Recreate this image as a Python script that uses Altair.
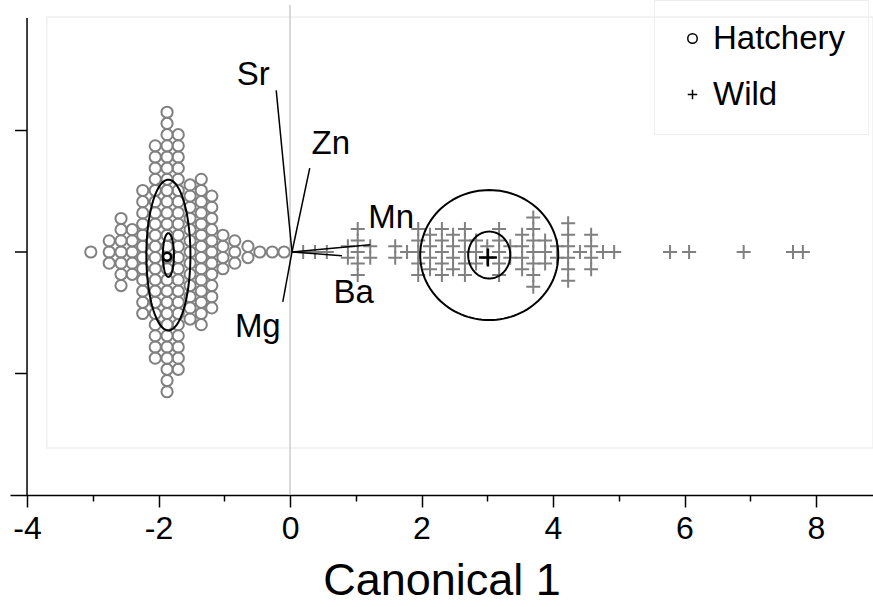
import altair as alt
import numpy as np
import pandas as pd

FONT = "Liberation Sans"

# ---- beeswarm columns (canonical-1 score of each column, number of fish in it)
hatch_x = [-3.03, -2.75, -2.57, -2.40, -2.24, -2.05, -1.87, -1.70, -1.52, -1.35,
           -1.19, -1.02, -0.84, -0.64, -0.46, -0.27, -0.09]
hatch_n = [1, 3, 7, 5, 12, 20, 26, 22, 13, 14, 11, 4, 3, 2, 1, 1, 1]

wild_x = [0.20, 0.38, 0.56, 0.88, 1.03, 1.22, 1.60, 1.78, 1.95, 2.13, 2.31, 2.48,
          2.66, 2.83, 3.00, 3.18, 3.35, 3.53, 3.70, 3.88, 4.06, 4.23, 4.41, 4.58,
          4.76, 4.93, 5.78, 6.07, 6.90, 7.65, 7.80]
wild_n = [1, 1, 1, 2, 5, 2, 2, 1, 5, 4, 5, 4, 5, 3, 2, 5, 2, 4, 7, 3, 2, 6, 1, 4,
          1, 1, 1, 1, 1, 1, 1]

groups = ["Hatchery", "Wild"]
stack_step = {"Hatchery": 0.092, "Wild": 0.095}

# ---- group means and confidence ellipses
hatch_mean = (-1.87, -0.04)
wild_mean = (3.01, -0.045)

ell_name = ["h_inner", "h_outer", "w_inner", "w_outer"]
ell_cx = [-1.85, -1.85, 3.03, 3.03]
ell_cy = [-0.025, -0.025, -0.025, -0.025]
ell_rx = [0.084, 0.335, 0.32, 1.05]
ell_ry = [0.18, 0.62, 0.193, 0.535]

# ---- biplot vectors
vec_name = ["Sr", "Zn", "Mn", "Ba", "Mg"]
vec_x0 = 0.03
vec_y0 = 0.0
vec_x = [-0.21, 0.30, 1.22, 0.79, -0.11]
vec_y = [1.33, 0.69, 0.06, -0.03, -0.41]
lab_x = [-0.56, 0.62, 1.54, 0.97, -0.49]
lab_y = [1.457, 0.89, 0.28, -0.337, -0.62]

# ---- axes frame
X_DOMAIN = [-4.259, 8.867]
Y_DOMAIN = [-2.0, 2.033]
x_ticks = list(range(-4, 9))
y_ticks = [1, 0, -1]
y_axis_x = -4
y_axis_top = 1.926
y_tick_len_x = -4.183
frame_x = [-3.70, 8.867]
frame_y = [-1.613, 1.934]

# ---------------------------------------------------------------
def swarm_rows(grp, xs, ns):
    out = []
    for x, n in zip(xs, ns):
        for i in range(n):
            out.append({"group": grp, "x": x, "y": (i - (n - 1) / 2) * stack_step[grp]})
    return pd.DataFrame(out)


hatch_pts = swarm_rows("Hatchery", hatch_x, hatch_n)
wild_pts = swarm_rows("Wild", wild_x, wild_n)

theta = np.linspace(0, 2 * np.pi, 121)
erows = []
for nm, cx, cy, rx, ry in zip(ell_name, ell_cx, ell_cy, ell_rx, ell_ry):
    for k, t in enumerate(theta):
        erows.append({"name": nm, "k": k, "x": cx + rx * np.cos(t), "y": cy + ry * np.sin(t)})
ell = pd.DataFrame(erows)

vec = pd.DataFrame({"name": vec_name, "x0": vec_x0, "y0": vec_y0, "x": vec_x, "y": vec_y,
                    "lx": lab_x, "ly": lab_y})

CROSS = "M-1,0L1,0M0,-1L0,1"

xscale = alt.Scale(domain=X_DOMAIN, nice=False, zero=False)
yscale = alt.Scale(domain=Y_DOMAIN, nice=False, zero=False)

xaxis = alt.Axis(
    values=x_ticks,
    labelExpr="datum.value % 2 == 0 ? '' + datum.value : ''",
    tickSize=alt.condition("datum.value % 2 != 0", alt.value(6), alt.value(12)),
    tickColor="black", tickWidth=1.5,
    domainColor="black", domainWidth=1.5,
    grid=False,
    labelFont=FONT, labelFontSize=32, labelColor="black", labelPadding=6,
    labelFlush=False, labelOverlap=False,
    title="Canonical 1", titleFont=FONT, titleFontSize=45, titleFontWeight="normal",
    titleColor="black", titlePadding=14,
)

legend = alt.Legend(
    title=None, orient="none", legendX=644, legendY=-5,
    symbolSize=90, symbolStrokeColor="black", symbolStrokeWidth=1.5,
    symbolFillColor="transparent",
    labelFont=FONT, labelFontSize=33, labelColor="black",
    labelOffset=4, rowPadding=22, padding=22,
    strokeColor="#eeeeee",
)
shape_enc = alt.Shape("group:N", scale=alt.Scale(domain=groups, range=["circle", CROSS]),
                      legend=legend)


def X(field, **kw):
    return alt.X(field, type="quantitative", scale=xscale, axis=xaxis, **kw)


def Y(field, **kw):
    return alt.Y(field, type="quantitative", scale=yscale, axis=None, **kw)


frame = alt.Chart(pd.DataFrame({"x": [frame_x[0]], "x2": [frame_x[1]],
                                "y": [frame_y[0]], "y2": [frame_y[1]]})).mark_rect(
    fillOpacity=0, stroke="#f0f0f0", strokeWidth=1.5
).encode(x=X("x"), x2="x2", y=Y("y"), y2="y2")

zero_line = alt.Chart(pd.DataFrame({"x": [0]})).mark_rule(
    color="#cccccc", strokeWidth=1.5
).encode(x=X("x"))

yaxis_line = alt.Chart(pd.DataFrame({"x": [y_axis_x], "y": [Y_DOMAIN[0]], "y2": [y_axis_top]})).mark_rule(
    color="black", strokeWidth=1.5
).encode(x=X("x"), y=Y("y"), y2="y2")

yaxis_ticks = alt.Chart(pd.DataFrame({"y": y_ticks, "x": y_tick_len_x, "x2": y_axis_x})).mark_rule(
    color="black", strokeWidth=1.5
).encode(x=X("x"), x2="x2", y=Y("y"))

hatch_layer = alt.Chart(hatch_pts).mark_point(
    filled=False, strokeWidth=2, color="#808080", opacity=1, size=125
).encode(x=X("x"), y=Y("y"), shape=shape_enc)

wild_layer = alt.Chart(wild_pts).mark_point(
    filled=False, strokeWidth=2, color="#808080", opacity=1, size=196
).encode(x=X("x"), y=Y("y"), shape=shape_enc)

ellipses = alt.Chart(ell).mark_line(color="black", strokeWidth=2).encode(
    x=X("x"), y=Y("y"), detail="name:N", order="k:Q"
)

hmean = alt.Chart(pd.DataFrame({"x": [hatch_mean[0]], "y": [hatch_mean[1]]})).mark_point(
    shape="circle", filled=False, color="black", strokeWidth=2.5, opacity=1, size=64
).encode(x=X("x"), y=Y("y"))

wmean = alt.Chart(pd.DataFrame({"x": [wild_mean[0]], "y": [wild_mean[1]]})).mark_point(
    shape=CROSS, filled=False, color="black", strokeWidth=2.5, opacity=1, size=324
).encode(x=X("x"), y=Y("y"))

vectors = alt.Chart(vec).mark_rule(color="black", strokeWidth=1.5).encode(
    x=X("x0"), y=Y("y0"), x2="x", y2="y"
)

labels = alt.Chart(vec).mark_text(font=FONT, fontSize=33, color="black",
                                  align="center", baseline="middle").encode(
    x=X("lx"), y=Y("ly"), text="name:N"
)

chart = alt.layer(
    frame, zero_line, yaxis_line, yaxis_ticks, hatch_layer, wild_layer, ellipses,
    hmean, wmean, vectors, labels
).properties(
    width=863, height=490,
    autosize=alt.AutoSizeParams(type="none"),
    padding={"left": 10, "top": 5, "right": 0, "bottom": 112},
    background="white",
).configure_view(stroke=None)

chart.save("out.html", embed_options={"renderer": "svg", "actions": False})
